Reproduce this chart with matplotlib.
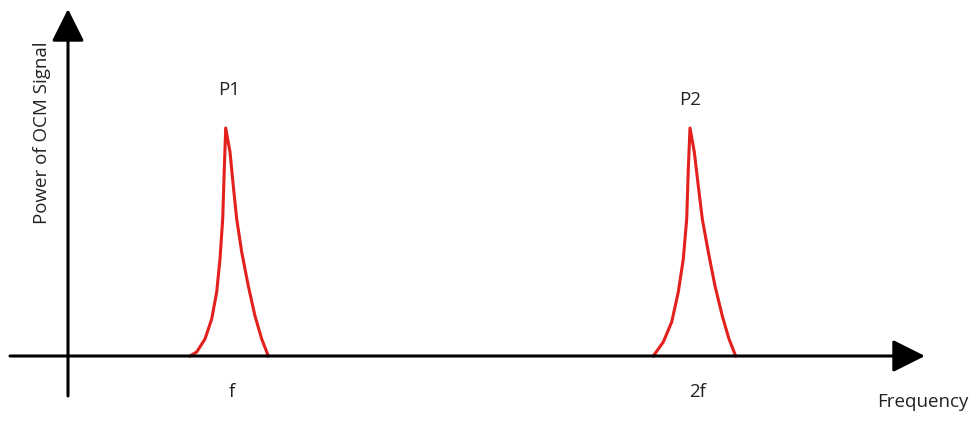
import matplotlib.pyplot as plt

# peak shapes (frequency, power), origin at axis crossing
p1_freq = [122, 128.7, 137, 143.7, 148.7, 152, 154.7, 156.3, 157.7,
           162, 165.3, 168.7, 173.7, 180.3, 187, 193.7, 200.3]
p1_power = [0, 4, 17, 37, 64, 97, 137, 187, 228,
            204, 170, 137, 104, 70, 40, 17, 0]
p2_freq = [585.3, 595.3, 603.7, 610.3, 615.3, 618.7, 620.3, 622,
           626.3, 630.3, 634.3, 640.3, 647, 654.3, 661, 667.7]
p2_power = [0, 14, 34, 64, 97, 137, 187, 228,
            204, 170, 137, 104, 70, 40, 17, 0]

peak_labels = ['P1', 'P2']
peak_label_pos = [(161, 267), (622, 257)]
tick_labels = ['f', '2f']
tick_pos = [164, 630]

fig = plt.figure(figsize=(9.77, 4.27), dpi=100)
ax = fig.add_axes([0, 0, 1, 1])
ax.set_xlim(-68, 909)
ax.set_ylim(-70, 357)
ax.axis('off')

red = '#e3201b'
ax.plot(p1_freq, p1_power, color=red, lw=2.2, solid_joinstyle='round')
ax.plot(p2_freq, p2_power, color=red, lw=2.2, solid_joinstyle='round')

# axes with arrows
arrow = dict(arrowstyle='-|>,head_length=0.4,head_width=0.2', mutation_scale=50,
             lw=2.2, color='black', shrinkA=0, shrinkB=0)
ax.annotate('', xy=(857, 0), xytext=(-58, 0), arrowprops=arrow)
ax.annotate('', xy=(0, 347), xytext=(0, -40), arrowprops=arrow)

fnt = 'Open Sans'
txt = dict(fontsize=13.5, family=fnt, color='#222222')
for lab, (x, y) in zip(peak_labels, peak_label_pos):
    ax.text(x, y, lab, ha='center', va='center', **txt)
for lab, x in zip(tick_labels, tick_pos):
    ax.text(x, -35, lab, ha='center', va='center', **txt)
ax.text(855, -45, 'Frequency', ha='center', va='center', **txt)
ax.text(-26, 224, 'Power of OCM Signal', ha='center', va='center', rotation=90, **txt)

fig.savefig('out.png', dpi=100)
